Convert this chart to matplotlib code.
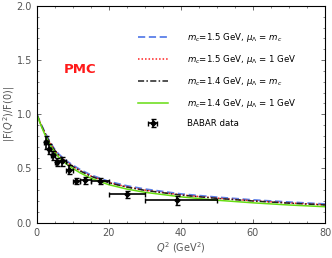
import numpy as np
import matplotlib.pyplot as plt
from matplotlib.ticker import MultipleLocator

# -------------------
#    Data
# -------------------
q2_curve = [0, 1, 2, 3, 4, 5, 6, 8, 10, 12, 15, 20, 25, 30, 40, 50, 60, 70, 80]

f_blue = [1.0, 0.92, 0.85, 0.785, 0.725, 0.675, 0.635, 0.575, 0.53, 0.49, 0.44,
          0.38, 0.34, 0.31, 0.265, 0.235, 0.21, 0.19, 0.172]
f_red = [1.0, 0.915, 0.845, 0.778, 0.718, 0.667, 0.626, 0.566, 0.52, 0.48, 0.43,
         0.37, 0.33, 0.30, 0.256, 0.226, 0.202, 0.182, 0.165]
f_black = [1.0, 0.915, 0.843, 0.776, 0.716, 0.665, 0.624, 0.564, 0.518, 0.478, 0.428,
           0.368, 0.328, 0.298, 0.254, 0.224, 0.200, 0.180, 0.163]
f_green = [1.0, 0.91, 0.83, 0.76, 0.70, 0.648, 0.607, 0.547, 0.50, 0.46, 0.41,
           0.35, 0.31, 0.28, 0.238, 0.207, 0.183, 0.163, 0.147]

labels = [r'$m_c$=1.5 GeV, $\mu_\Lambda$ = $m_c$',
          r'$m_c$=1.5 GeV, $\mu_\Lambda$ = 1 GeV',
          r'$m_c$=1.4 GeV, $\mu_\Lambda$ = $m_c$',
          r'$m_c$=1.4 GeV, $\mu_\Lambda$ = 1 GeV']

# BABAR data
babar_q2 = [2.5, 3.5, 4.5, 5.5, 7.0, 9.0, 11.0, 13.5, 17.5, 25.0, 39.0]
babar_lo = [2, 3, 4, 5, 6, 8, 10, 12, 15, 20, 30]
babar_hi = [3, 4, 5, 6, 8, 10, 12, 15, 20, 30, 50]
babar_f = [0.74, 0.68, 0.62, 0.56, 0.565, 0.49, 0.385, 0.39, 0.385, 0.26, 0.205]
babar_err = [0.06, 0.05, 0.045, 0.04, 0.04, 0.04, 0.03, 0.035, 0.03, 0.035, 0.04]

# -------------------
#   Plotting area
# -------------------
plt.rcParams['font.family'] = 'DejaVu Sans'
gray = '#555555'

fig = plt.figure(figsize=(3.32, 2.58), dpi=100)
ax = fig.add_axes([0.111, 0.137, 0.868, 0.840])

ax.plot(q2_curve, f_blue, c='#5b7fe8', lw=1.3, ls=(0, (4, 2)), label=labels[0])
ax.plot(q2_curve, f_red, c='#ff2020', lw=1.1, ls=(0, (1, 1.3)), label=labels[1])
ax.plot(q2_curve, f_black, c='#222222', lw=1.1, ls=(0, (4, 1.5, 1, 1.5)), label=labels[2])
ax.plot(q2_curve, f_green, c='#66dd11', lw=1.1, ls='-', label=labels[3])

q = np.array(babar_q2)
xerr = [q - np.array(babar_lo), np.array(babar_hi) - q]
ax.errorbar(babar_q2, babar_f, yerr=babar_err, xerr=xerr,
            fmt='D', ms=2.6, c='black', ecolor='black', elinewidth=1.2,
            capsize=1.8, capthick=1.0, label='BABAR data')

ax.text(12, 1.41, 'PMC', color='#ff1a1a', fontsize=9.5, fontweight='bold',
        ha='center', va='center')

ax.set_xlim(0, 80)
ax.set_ylim(0, 2.0)
ax.xaxis.set_major_locator(MultipleLocator(20))
ax.xaxis.set_minor_locator(MultipleLocator(5))
ax.yaxis.set_major_locator(MultipleLocator(0.5))
ax.yaxis.set_minor_locator(MultipleLocator(0.1))
ax.tick_params(which='both', direction='in', top=True, right=True,
               labelsize=7, labelcolor=gray, color=gray)
ax.tick_params(which='major', length=3, width=0.6)
ax.tick_params(which='minor', length=1.6, width=0.5)
for s in ax.spines.values():
    s.set_linewidth(0.8)

ax.set_xlabel(r'$Q^2$ (GeV$^2$)', fontsize=7, color=gray, labelpad=2)
ax.set_ylabel(r'|F($Q^2$)/F(0)|', fontsize=7, color=gray)
ax.yaxis.set_label_coords(-0.07, 0.5)

ax.legend(loc='upper left', bbox_to_anchor=(0.35, 0.885), frameon=False,
          fontsize=6.2, handlelength=3.5, labelspacing=1.05, handletextpad=2.2,
          borderaxespad=0, borderpad=0)

plt.savefig('out.png', dpi=100)
